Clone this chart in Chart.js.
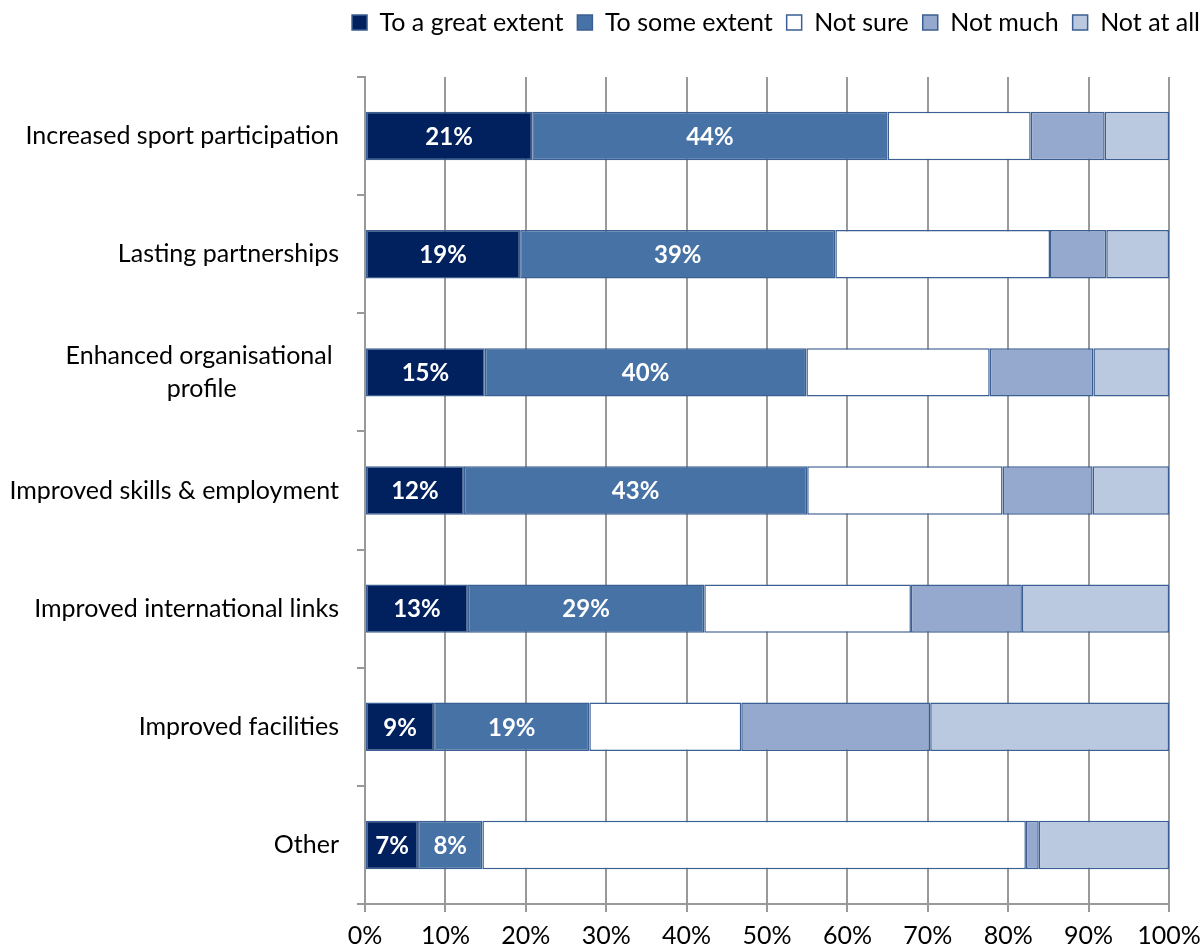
<!DOCTYPE html>
<html>
<head>
<meta charset="utf-8">
<script src="https://cdn.jsdelivr.net/npm/chart.js@4.4.1/dist/chart.umd.min.js"></script>
<style>
  html, body { margin: 0; padding: 0; background: #fff; }
  #wrap { width: 1202px; height: 947px; }
</style>
</head>
<body>
<div id="wrap"><canvas id="chart" width="1202" height="947"></canvas></div>
<script>
// ─── Data ───────────────────────────────────────────────────────────────────

const categories = [
  "Increased sport participation",
  "Lasting partnerships",
  ["Enhanced organisational ", "profile                "],
  "Improved skills & employment",
  "Improved international links",
  "Improved facilities",
  "Other"
];

const seriesNames = ["To a great extent", "To some extent", "Not sure", "Not much", "Not at all"];

const greatExtent = [20.8, 19.3, 14.9, 12.3, 12.8,  8.6,  6.6];
const someExtent  = [44.2, 39.2, 40.0, 42.7, 29.4, 19.3,  8.0];
const notSure     = [17.8, 26.7, 22.8, 24.3, 25.7, 18.9, 67.6];
const notMuch     = [ 9.2,  7.0, 12.9, 11.2, 13.8, 23.5,  1.6];
const notAtAll    = [ 8.0,  7.8,  9.4,  9.5, 18.3, 29.7, 16.2];

const xTicks = [0, 10, 20, 30, 40, 50, 60, 70, 80, 90, 100];

// ─── Style ──────────────────────────────────────────────────────────────────

const FONT = "Lato, 'Open Sans', sans-serif";
const fills = ["#00205e", "#4672a6", "#ffffff", "#95a9cf", "#bac8e0"];
const EDGE = "#3b5f92";
const GRID = "#999999";

// white bold percentages on the first two series
const segmentLabels = {
  id: "segmentLabels",
  afterDatasetsDraw(chart) {
    const ctx = chart.ctx;
    ctx.save();
    ctx.fillStyle = "#ffffff";
    ctx.font = "bold 24px " + FONT;
    ctx.textAlign = "center";
    ctx.textBaseline = "middle";
    [0, 1].forEach(di => {
      const meta = chart.getDatasetMeta(di);
      meta.data.forEach((bar, i) => {
        const v = chart.data.datasets[di].data[i];
        const p = bar.getCenterPoint();
        ctx.fillText(Math.round(v) + "%", p.x, p.y + 1);
      });
    });
    ctx.restore();
  }
};

// legend: fixed height, nudged to the canvas edge
const legendEdge = {
  id: "legendEdge",
  beforeInit(chart) {
    const legend = chart.legend;
    if (!legend) return;
    const fit = legend.fit;
    legend.fit = function () {
      fit.call(this);
      this.height = 77;
    };
  },
  afterLayout(chart) {
    const legend = chart.legend;
    if (!legend) return;
    legend.right += 12;
    legend.top -= 4;
  }
};

const seriesData = [greatExtent, someExtent, notSure, notMuch, notAtAll];

new Chart(document.getElementById("chart"), {
  type: "bar",
  data: {
    labels: categories,
    datasets: seriesNames.map((name, i) => ({
      label: name,
      data: seriesData[i],
      backgroundColor: fills[i],
      borderColor: EDGE,
      borderWidth: 1.5,
      borderSkipped: false,
      categoryPercentage: 0.41,
      barPercentage: 1
    }))
  },
  options: {
    indexAxis: "y",
    responsive: false,
    animation: false,
    layout: { padding: 0 },
    plugins: {
      tooltip: { enabled: false },
      legend: {
        position: "top",
        align: "end",
        labels: {
          color: "#000",
          font: { family: FONT, size: 25 },
          boxWidth: 15,
          boxHeight: 15,
          padding: 14
        }
      }
    },
    scales: {
      x: {
        stacked: true,
        min: 0,
        max: 100,
        afterBuildTicks(scale) {
          scale.ticks = xTicks.map(v => ({ value: v }));
        },
        afterFit(scale) {
          scale.height = 43;
          scale.paddingRight = 33;
          scale.paddingLeft = 0;
        },
        grid: {
          color: GRID,
          lineWidth: 2,
          drawTicks: true,
          tickLength: 8,
          tickColor: GRID
        },
        border: { display: true, color: GRID, width: 2 },
        ticks: {
          color: "#000",
          font: { family: FONT, size: 25 },
          padding: 9,
          maxRotation: 0,
          callback: v => v + "%"
        }
      },
      y: {
        stacked: true,
        afterFit(scale) {
          scale.width = 365;
        },
        grid: {
          offset: true,
          drawOnChartArea: false,
          drawTicks: true,
          tickLength: 8,
          tickColor: GRID,
          lineWidth: 2
        },
        border: { display: true, color: GRID, width: 2 },
        ticks: {
          color: "#000",
          font: { family: FONT, size: 25, lineHeight: 1.32 },
          padding: 18
        }
      }
    }
  },
  plugins: [segmentLabels, legendEdge]
});
</script>
</body>
</html>
